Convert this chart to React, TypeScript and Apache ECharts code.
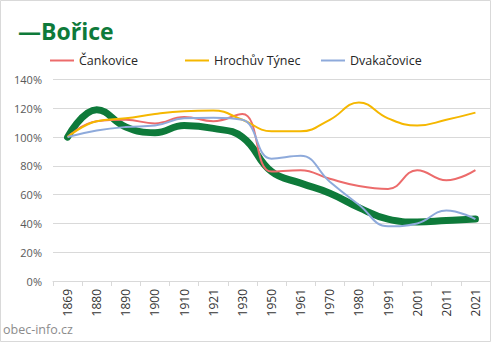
import React, { useEffect, useRef } from "react";
import * as echarts from "echarts";

const categories = ["1869", "1880", "1890", "1900", "1910", "1921", "1930", "1950", "1961", "1970", "1980", "1991", "2001", "2011", "2021"];
const borice = [100, 119, 107, 103, 108, 106, 100, 76, 68, 61, 51, 43, 41, 42, 43];
const cankovice = [100, 111, 112, 109.5, 114, 111, 116, 76, 77, 71, 66, 64, 77, 70, 77];
const hrochuvTynec = [100, 111, 113, 116, 118, 118.5, 112, 104, 104, 112, 124, 113, 108, 112, 117];
const dvakacovice = [100, 104.5, 107, 108, 113, 113.5, 112, 85, 87, 69, 53, 38, 40, 49, 43];
const yTicks = [0, 20, 40, 60, 80, 100, 120, 140];

const FONT = "'Open Sans', 'Noto Sans', sans-serif";

export default function App() {
  const ref = useRef<HTMLDivElement>(null);
  useEffect(() => {
    document.body.style.margin = "0";
    const chart = echarts.init(ref.current!, null, { renderer: "svg" });
    const legendBase = {
      top: 49,
      icon: "rect",
      itemWidth: 24,
      itemHeight: 2,
      itemGap: 4,
      textStyle: { fontSize: 12.5, color: "#262626", fontFamily: FONT },
    };
    chart.setOption({
      animation: false,
      textStyle: { fontFamily: FONT },
      title: {
        text: "—Bořice",
        left: 13,
        top: 14,
        textStyle: { fontSize: 23, fontWeight: "bold", color: "#0e7a3a", fontFamily: FONT },
      },
      legend: [
        { ...legendBase, left: 45, data: ["Čankovice"] },
        { ...legendBase, left: 180, data: ["Hrochův Týnec"] },
        { ...legendBase, left: 316, data: ["Dvakačovice"] },
      ],
      grid: { left: 53, right: 2, top: 79.5, bottom: 62 },
      xAxis: {
        type: "category",
        data: categories,
        boundaryGap: true,
        axisLine: { lineStyle: { color: "#d9d9d9" } },
        axisTick: { show: true, length: 5, lineStyle: { color: "#d9d9d9" } },
        axisLabel: { rotate: 90, fontSize: 12, color: "#333333", margin: 8, fontFamily: FONT },
      },
      yAxis: {
        type: "value",
        min: yTicks[0],
        max: yTicks[yTicks.length - 1],
        interval: 20,
        axisLine: { show: false },
        axisTick: { show: false },
        splitLine: { lineStyle: { color: "#d9d9d9" } },
        axisLabel: { formatter: "{value}%", fontSize: 11, color: "#595959", margin: 11, fontFamily: FONT },
      },
      graphic: [
        {
          type: "rect",
          shape: { x: 0.5, y: 0.5, width: 490, height: 341 },
          style: { fill: "none", stroke: "#d9d9d9", lineWidth: 1 },
          silent: true,
        },
        {
          type: "text",
          left: 3,
          top: 323,
          style: { text: "obec-info.cz", fontSize: 12.5, fill: "#8c8c8c", fontFamily: FONT },
        },
      ],
      series: [
        {
          name: "Bořice",
          type: "line",
          data: borice,
          smooth: 0.45,
          symbol: "none",
          lineStyle: { width: 7, color: "#0e7a3a", cap: "round", join: "round" },
          itemStyle: { color: "#0e7a3a" },
        },
        {
          name: "Čankovice",
          type: "line",
          data: cankovice,
          smooth: 0.45,
          symbol: "none",
          lineStyle: { width: 2, color: "#ec6b6b" },
          itemStyle: { color: "#ec6b6b" },
        },
        {
          name: "Hrochův Týnec",
          type: "line",
          data: hrochuvTynec,
          smooth: 0.45,
          symbol: "none",
          lineStyle: { width: 2, color: "#f5b700" },
          itemStyle: { color: "#f5b700" },
        },
        {
          name: "Dvakačovice",
          type: "line",
          data: dvakacovice,
          smooth: 0.45,
          symbol: "none",
          lineStyle: { width: 2, color: "#8eaadb" },
          itemStyle: { color: "#8eaadb" },
        },
      ],
    });
    return () => chart.dispose();
  }, []);
  return <div ref={ref} style={{ width: 492, height: 343 }} />;
}
